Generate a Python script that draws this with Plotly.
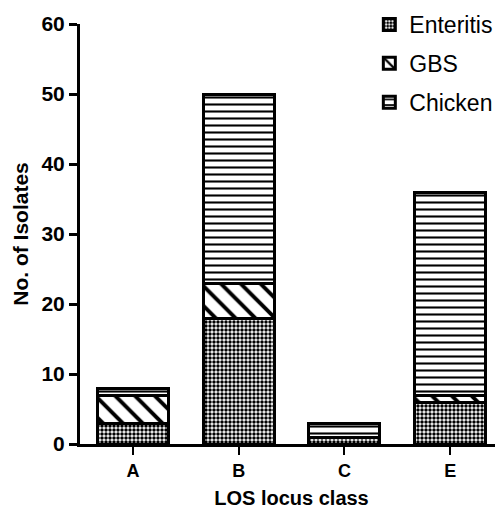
import plotly.graph_objects as go

categories = ["A", "B", "C", "E"]
enteritis = [3, 18, 1, 6]
gbs = [4, 5, 0, 1]
chicken = [1, 27, 2, 29]
y_ticks = [0, 10, 20, 30, 40, 50, 60]

fig = go.Figure()
line = dict(color="black", width=3)
fig.add_trace(go.Bar(x=categories, y=enteritis, name="Enteritis", legendgroup="g1",
                     marker=dict(color="white", line=line,
                                 pattern=dict(shape=".", size=4, solidity=0.6,
                                              fgcolor="black", bgcolor="white", fillmode="replace"))))
fig.add_trace(go.Bar(x=categories, y=gbs, name="GBS", legendgroup="g2",
                     marker=dict(color="white", line=line,
                                 pattern=dict(shape="\\", size=14, solidity=0.28,
                                              fgcolor="black", bgcolor="white", fillmode="replace"))))
fig.add_trace(go.Bar(x=categories, y=chicken, name="Chicken", legendgroup="g3",
                     marker=dict(color="white", line=line,
                                 pattern=dict(shape="-", size=7, solidity=0.3,
                                              fgcolor="black", bgcolor="white", fillmode="replace"))))

fam = "Liberation Sans, Arial, sans-serif"
fig.update_layout(
    barmode="stack", bargap=0.33,
    width=495, height=505,
    margin=dict(l=72, r=0, t=16, b=69, autoexpand=False),
    plot_bgcolor="white", paper_bgcolor="white",
    font=dict(family=fam, color="black"),
    legend=dict(x=0.684, y=1.05, xanchor="left", yanchor="top",
                font=dict(size=23, family=fam, color="black"),
                bgcolor="rgba(0,0,0,0)", traceorder="grouped", tracegroupgap=6),
    showlegend=True,
)
fig.update_xaxes(
    range=[-0.5, 3.5], showline=True, linecolor="black", linewidth=3,
    ticks="outside", ticklen=8, tickwidth=2, tickcolor="black",
    tickfont=dict(size=18, weight="bold", family=fam),
    title=dict(text="LOS locus class", font=dict(size=20, weight="bold", family=fam), standoff=12),
    showgrid=False, zeroline=False, automargin=False,
)
fig.update_yaxes(
    range=[0, 60], tickvals=y_ticks, showline=True, linecolor="black", linewidth=3,
    ticks="outside", ticklen=8, tickwidth=3, tickcolor="black",
    tickfont=dict(size=21, weight="bold", family=fam),
    title=dict(text="No. of Isolates", font=dict(size=21, weight="bold", family=fam), standoff=8),
    showgrid=False, zeroline=False, automargin=False,
)
fig.write_html("out.html")
